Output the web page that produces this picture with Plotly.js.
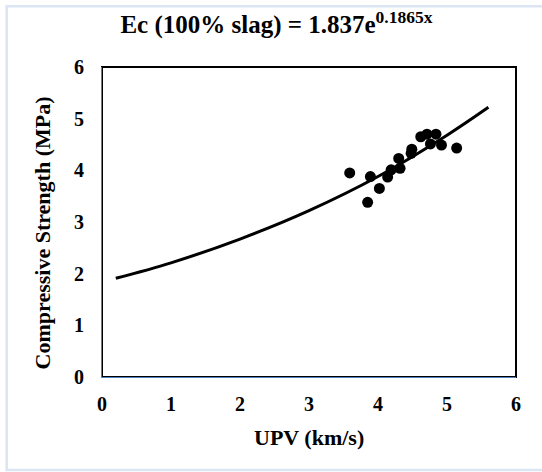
<!DOCTYPE html>
<html>
<head>
<meta charset="utf-8">
<script src="https://cdn.plot.ly/plotly-3.0.1.min.js"></script>
<style>html,body{margin:0;padding:0;background:#fff;}#chart{width:542px;height:472px;}</style>
</head>
<body>
<div id="chart"></div>
<script>
// Measured points: UPV (km/s) vs compressive strength (MPa)
const upv = [3.59, 3.85, 3.89, 4.02, 4.14, 4.19, 4.32, 4.30, 4.49, 4.48, 4.62, 4.71, 4.84, 4.76, 4.92, 5.14];
const strength = [3.95, 3.38, 3.88, 3.65, 3.87, 4.01, 4.04, 4.23, 4.41, 4.33, 4.65, 4.70, 4.70, 4.51, 4.49, 4.43];
// Trendline
const trendX = [0.2, 1, 2, 3, 4, 5, 5.6];
const trendY = [1.91, 2.21, 2.67, 3.22, 3.88, 4.68, 5.22];
const xTicks = [0, 1, 2, 3, 4, 5, 6];
const yTicks = [0, 1, 2, 3, 4, 5, 6];
const titleText = 'Ec (100% slag) = 1.837e<sup>0.1865x</sup>';
const xTitle = 'UPV (km/s)';
const yTitle = 'Compressive Strength (MPa)';

const serif = 'Liberation Serif, Times New Roman, serif';
const traces = [
  {x: trendX, y: trendY, mode: 'lines', line: {color: '#000', width: 3, shape: 'spline'}, hoverinfo: 'skip'},
  {x: upv, y: strength, mode: 'markers', marker: {color: '#000', size: 11}}
];
const layout = {
  width: 542, height: 472,
  margin: {l: 101.5, r: 26, t: 67, b: 94.5},
  paper_bgcolor: '#fff', plot_bgcolor: '#fff',
  showlegend: false,
  font: {family: serif, color: '#000'},
  title: {text: titleText, font: {family: serif, size: 25, color: '#000', weight: 'bold'},
          x: 0.51, xanchor: 'center', y: 0.948, yanchor: 'middle', yref: 'container', xref: 'container'},
  xaxis: {range: [0, 6], tickvals: xTicks, ticktext: xTicks.map(String), showgrid: false, zeroline: false,
          showline: true, linecolor: '#4f81bd', linewidth: 1, ticks: '', ticklabelstandoff: 9,
          tickfont: {family: serif, size: 20, weight: 'bold'}},
  yaxis: {range: [0, 6], tickvals: yTicks, ticktext: yTicks.map(String), showgrid: false, zeroline: false,
          showline: true, linecolor: '#4f81bd', linewidth: 1, ticks: '', ticklabelstandoff: 13,
          tickfont: {family: serif, size: 20, weight: 'bold'}},
  annotations: [
    {text: xTitle, xref: 'paper', yref: 'paper', x: 0.5, y: -0.196, xanchor: 'center', yanchor: 'middle',
     showarrow: false, font: {family: serif, size: 22, weight: 'bold', color: '#000'}},
    {text: yTitle, xref: 'paper', yref: 'paper', x: -0.1435, y: 0.465, xanchor: 'center', yanchor: 'middle',
     textangle: -90, showarrow: false, font: {family: serif, size: 22, weight: 'bold', color: '#000'}}
  ],
  shapes: [
    {type: 'rect', xref: 'paper', yref: 'paper', x0: 0, x1: 1, y0: 0, y1: 1, layer: 'below',
     line: {color: '#000', width: 2}},
    {type: 'rect', xref: 'paper', yref: 'paper', x0: -0.2302, x1: 1.08, y0: -0.3, y1: 1.196, layer: 'below',
     line: {color: '#dbe5f3', width: 2.5}}
  ]
};
Plotly.newPlot('chart', traces, layout, {displayModeBar: false, staticPlot: true});
</script>
</body>
</html>
